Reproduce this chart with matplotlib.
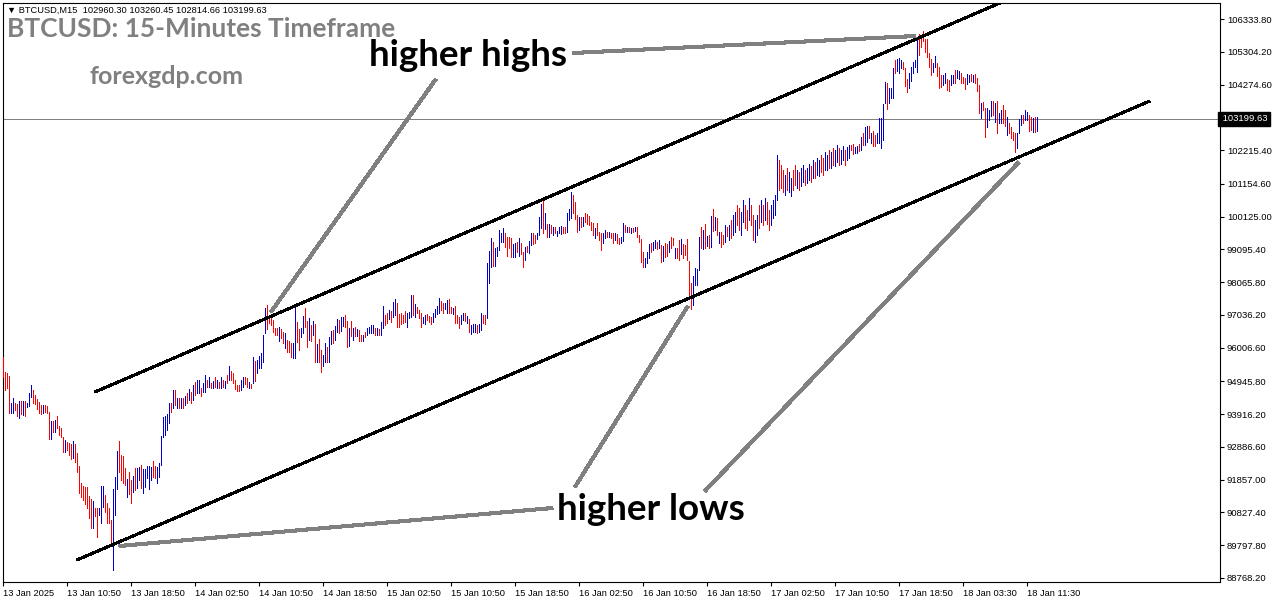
import matplotlib
matplotlib.use("Agg")
import matplotlib.pyplot as plt
import matplotlib.transforms as mtransforms
import numpy as np

# ---- BTCUSD M15 bars: high / low per bar, and direction (1 = up bar, 0 = down bar)
highs = [
    95703, 95232, 95200, 95115, 94276, 94415, 94276, 94236, 94330, 94330,
    94330, 94330, 94276, 94591, 94833, 94676, 94518, 94383, 94308, 94204,
    94204, 94195, 94173, 93994, 93701, 93701, 93733, 93859, 93544, 93491,
    93208, 93104, 93051, 93001, 92979, 93073, 92979, 92686, 92287, 91744,
    91668, 91637, 91637, 91354, 91241, 91198, 90958, 90977, 90958, 91659,
    91659, 91376, 91115, 90958, 90590, 91565, 91932, 92759, 93083, 92633,
    92602, 92215, 91869, 92108, 91847, 91982, 92215, 92215, 92265, 92319,
    92184, 92184, 92287, 92287, 92265, 92444, 92287, 92265, 92391, 93230,
    93818, 93859, 93921, 94276, 94276, 94676, 94676, 94415, 94415, 94415,
    94415, 94487, 94591, 94698, 94622, 94833, 94936, 94990, 94990, 94748,
    94886, 95147, 94990, 95075, 94905, 94969, 95075, 94990, 94936, 95075,
    94990, 94969, 95147, 95430, 95283, 95219, 94990, 94833, 94833, 94990,
    95075, 95075, 95043, 94936, 94864, 95722, 95597, 95618, 95744, 95829,
    96404, 97243, 97347, 97032, 96929, 96875, 96614, 96614, 96646, 96583,
    96508, 96457, 96247, 96226, 96162, 96143, 97293, 96822, 96583, 96614,
    97001, 97243, 96854, 96929, 96718, 96844, 96750, 96121, 96269, 95933,
    95775, 96143, 96036, 96351, 96540, 96561, 96687, 96897, 96875, 96960,
    96979, 97032, 96854, 96614, 96854, 96614, 96665, 96583, 96561, 96404,
    96404, 96508, 96633, 96665, 96718, 96718, 96633, 96614, 96583, 96822,
    97315, 97032, 97086, 97190, 97169, 97450, 97526, 97419, 97064, 97086,
    97032, 97169, 97086, 97136, 97661, 97661, 97378, 97293, 97190, 97086,
    96979, 97032, 97064, 97001, 96960, 97086, 97212, 97315, 97557, 97483,
    97400, 97419, 97504, 97526, 97274, 97243, 97315, 97032, 96979, 97032,
    97105, 97086, 97001, 96897, 96718, 96750, 96750, 96718, 96750, 97105,
    97032, 97032, 98676, 99054, 99443, 99336, 99128, 99179, 99703, 99619,
    99757, 99619, 99493, 99493, 99461, 99254, 99285, 99336, 99443, 99304,
    99022, 99179, 99201, 99368, 99619, 99600, 99546, 99619, 100121, 100520,
    100625, 100228, 99892, 99892, 99861, 99788, 99788, 99682, 99807, 99829,
    99807, 99788, 100228, 100354, 100907, 100803, 100593, 100175, 100121, 100103,
    100121, 100247, 100206, 100143, 99964, 99933, 99757, 99914, 99650, 99619,
    99600, 99703, 99650, 99650, 99619, 99600, 99619, 99578, 99443, 99474,
    99914, 99861, 99807, 99807, 99776, 99757, 99807, 99807, 99546, 99421,
    99022, 98833, 99003, 99254, 99285, 99317, 99389, 99317, 99389, 99232,
    99210, 99285, 99254, 99357, 99493, 99461, 99128, 99128, 99389, 99421,
    99254, 99232, 99421, 98729, 98029, 98267, 98500, 98478, 99493, 99807,
    99703, 99883, 99524, 99546, 100153, 100363, 100121, 100071, 99650, 99631,
    99546, 99861, 99807, 99861, 100018, 100175, 100269, 100489, 100395, 100269,
    100646, 100489, 100332, 100709, 100489, 100175, 100018, 100175, 100489, 100646,
    100489, 100709, 100583, 100332, 100489, 100646, 100803, 102060, 101903, 101746,
    101589, 101431, 101651, 101526, 101337, 101589, 101746, 101589, 101526, 101651,
    101746, 101589, 101651, 101777, 101714, 101903, 101840, 101966, 101903, 102060,
    101966, 102154, 102060, 102217, 102154, 102280, 102217, 102374, 102280, 102217,
    102343, 102217, 102311, 102374, 102374, 102406, 102321, 102343, 102406, 102635,
    102742, 102950, 102972, 102972, 102742, 102825, 102689, 102742, 103214, 103214,
    103663, 104364, 104332, 104156, 104156, 104785, 105045, 105068, 105099, 105045,
    104992, 104785, 104439, 104646, 104816, 104992, 105045, 105727, 105863, 105831,
    105967, 105696, 105696, 105275, 105068, 104942, 105171, 104961, 104835, 104574,
    104574, 104646, 104439, 104417, 104574, 104574, 104731, 104731, 104710, 104628,
    104502, 104470, 104606, 104574, 104606, 104574, 104606, 104470, 104260, 103704,
    103735, 103528, 103528, 103474, 103757, 103767, 103704, 103767, 103390, 103474,
    103631, 103474, 103264, 103056, 102950, 102792, 102761, 102742, 103182, 103317,
    103317, 103474, 103421, 103317, 103264, 103232, 103245, 103260.45,
]
lows = [
    95075, 94676, 94729, 93962, 93962, 93962, 94047, 93859, 93805, 93921,
    93890, 93859, 94151, 94173, 94465, 94276, 94226, 94069, 93962, 93921,
    93962, 93994, 93943, 93136, 93126, 93365, 93365, 93472, 93261, 93189,
    92737, 92737, 92790, 92633, 92507, 92529, 92423, 92108, 91448, 91323,
    91219, 91093, 90958, 90644, 90330, 90330, 90716, 90066, 90748, 90487,
    91008, 90851, 90487, 90506, 89836, 89019, 90748, 91565, 92108, 91847,
    91744, 91690, 91323, 91398, 91115, 91480, 91533, 91587, 91847, 91587,
    91448, 91637, 91901, 91555, 91847, 91932, 91901, 91763, 91951, 92319,
    93208, 93261, 93419, 93648, 93994, 94101, 94204, 94101, 94101, 94101,
    94101, 94204, 94258, 94361, 94258, 94361, 94518, 94572, 94572, 94487,
    94622, 94622, 94779, 94779, 94729, 94729, 94779, 94748, 94729, 94748,
    94779, 94729, 94886, 94990, 94990, 94886, 94698, 94644, 94644, 94676,
    94779, 94864, 94779, 94729, 94729, 94886, 94969, 95200, 95358, 95376,
    95565, 96476, 96583, 96772, 96718, 96508, 96404, 96404, 96226, 96300,
    96143, 95986, 95879, 95879, 95722, 95672, 95672, 96193, 95933, 96351,
    96476, 96665, 96036, 96247, 96226, 96404, 95565, 95565, 95565, 95251,
    95430, 95565, 95565, 95565, 96121, 96162, 96247, 96508, 96457, 96540,
    96687, 96665, 96017, 96058, 96373, 96247, 96373, 96373, 96226, 96226,
    96226, 96332, 96404, 96457, 96476, 96476, 96404, 96404, 96404, 96404,
    96614, 96718, 96772, 96897, 96822, 96979, 97032, 96665, 96665, 96750,
    96772, 96822, 96665, 96929, 96979, 97032, 96979, 97086, 96929, 96665,
    96772, 96750, 96875, 96822, 96750, 96822, 96979, 97064, 97086, 97190,
    97086, 97212, 97086, 97105, 97105, 97064, 96790, 96790, 96614, 96750,
    96875, 96854, 96772, 96508, 96435, 96508, 96508, 96476, 96508, 96561,
    96772, 96750, 96929, 98047, 98550, 98572, 98572, 98886, 99075, 99336,
    99336, 99179, 98886, 99128, 98846, 98846, 98846, 99022, 98886, 98949,
    98531, 98761, 99022, 98990, 99232, 99263, 99285, 99411, 99546, 99757,
    99600, 99725, 99474, 99474, 99619, 99546, 99600, 99515, 99600, 99578,
    99600, 99619, 99650, 100018, 100071, 100228, 100040, 99650, 99703, 99807,
    99829, 99964, 99892, 99861, 99703, 99546, 99443, 99546, 99389, 99075,
    99304, 99443, 99474, 99493, 99443, 99285, 99389, 99304, 99263, 99304,
    99368, 99650, 99650, 99631, 99600, 99650, 99682, 99493, 99317, 98688,
    98550, 98550, 98657, 98833, 99022, 99075, 99128, 99106, 99128, 98688,
    98729, 98864, 98896, 99022, 99147, 99232, 98833, 98814, 98761, 98940,
    98833, 98918, 98761, 97557, 97221, 97347, 97975, 97975, 98446, 99128,
    99106, 99128, 99210, 99147, 99179, 99672, 99703, 99546, 99285, 99179,
    99254, 99317, 99524, 99389, 99452, 99546, 99640, 99861, 99703, 99546,
    99955, 99766, 99703, 100018, 99861, 99389, 99326, 99546, 99766, 99955,
    99861, 100018, 99892, 99703, 99861, 100080, 100175, 100646, 100960, 101023,
    100897, 100803, 100960, 100897, 100772, 100960, 101118, 101023, 100960, 101086,
    101212, 101118, 101180, 101275, 101212, 101337, 101337, 101431, 101400, 101526,
    101431, 101589, 101589, 101651, 101651, 101746, 101714, 101840, 101746, 101777,
    101903, 101746, 101903, 101966, 102217, 102092, 102114, 102133, 102196, 102217,
    102374, 102374, 102478, 102585, 102428, 102343, 102343, 102447, 102428, 102271,
    102532, 103685, 103496, 103685, 103842, 103842, 104628, 104710, 104628, 104785,
    104753, 104229, 104049, 104156, 104396, 104628, 104835, 104678, 105203, 105463,
    105653, 105306, 105149, 104835, 104574, 104678, 104835, 104543, 104156, 104188,
    104260, 104313, 104103, 104081, 104260, 104332, 104313, 104470, 104439, 104332,
    104313, 104125, 104291, 104364, 104396, 104364, 104313, 104081, 103390, 103214,
    103474, 102635, 102950, 103160, 103286, 103317, 103107, 102761, 103075, 103056,
    103075, 102972, 102689, 102742, 102585, 102532, 102164, 102271, 102742, 103003,
    103056, 103160, 103160, 102825, 102846, 102792, 102792, 102814.66,
]
bar_up = (
    "0000110010" "1011100000" "1000101000" "0100010000" "0000010011"
    "1000011100" "0010010110" "1111100111" "1111010101" "0101010110"
    "1101010101" "0101000001" "1001010111" "1100000010" "0100011001"
    "1001010100" "1101101101" "1001010100" "1011110101" "1001011000"
    "0011101000" "1100011110" "0110010001" "1010111011" "0011101111"
    "1000011010" "0101100111" "0101010111" "0011100010" "1000001000"
    "1101001001" "1010101000" "0111011010" "1001001001" "0000011110"
    "1010101010" "0101011001" "1001001101" "0100111100" "0101100101"
    "1011010110" "0110101101" "1011001101" "0110100111" "1101110111"
    "0001111100" "0000011000" "1100110110" "0011010001" "0011101011"
    "0010000111" "01100101"
)
last_open, last_high, last_low, last_close = 102960.30, 103260.45, 102814.66, 103199.63

price_ticks = [106333.80, 105304.20, 104274.60, 102215.40, 101154.60, 100125.00,
               99095.40, 98065.80, 97036.20, 96006.60, 94945.80, 93916.20,
               92886.60, 91857.00, 90827.40, 89797.80, 88768.20]
time_labels = ["13 Jan 2025", "13 Jan 10:50", "13 Jan 18:50", "14 Jan 02:50",
               "14 Jan 10:50", "14 Jan 18:50", "15 Jan 02:50", "15 Jan 10:50",
               "15 Jan 18:50", "16 Jan 02:50", "16 Jan 10:50", "16 Jan 18:50",
               "17 Jan 02:50", "17 Jan 10:50", "17 Jan 18:50", "18 Jan 03:30",
               "18 Jan 11:30"]
bars_per_label = 32

# trend channel (bar index, price) and pointer lines for the annotations
upper_channel = ([45.8, 498.3], [94613, 106837])
lower_channel = ([36.8, 573.3], [89334, 103757])
highs_pointers = [([284.8, 456.3], [105265, 105800]),
                  ([216.3, 133.8], [104448, 97127])]
lows_pointers = [([274.8, 57.8], [90968, 89773]),
                 ([285.8, 342.3], [91627, 97315]),
                 ([350.8, 507.8], [91502, 101840])]

# ---- figure
W, H = 1276, 604
fig = plt.figure(figsize=(W / 100, H / 100), dpi=100)
fig.patch.set_facecolor("white")
ax_l, ax_r, ax_t, ax_b = 3, 1220, 3, 582
ax = fig.add_axes([ax_l / W, (H - ax_b) / H, (ax_r - ax_l) / W, (ax_b - ax_t) / H])
ax.set_facecolor("white")
ax.set_xlim(-0.165, 608.335)
ax.set_ylim(88642.1, 106836.6)

x = np.arange(len(highs))
colors = ["#0000cd" if c == "1" else "#ff0000" for c in bar_up]
ax.vlines(x, lows, highs, colors=colors, linewidth=0.6, antialiased=False, zorder=3)

# last price line
ax.axhline(last_close, color="#808080", linewidth=0.6, antialiased=False, zorder=1)

# channel
for xs, ys in (upper_channel, lower_channel):
    ax.plot(xs, ys, color="black", linewidth=1.5, antialiased=False, zorder=4,
            solid_capstyle="butt")
for xs, ys in highs_pointers + lows_pointers:
    ax.plot(xs, ys, color="#808080", linewidth=2.2, antialiased=False, zorder=5,
            solid_capstyle="butt")

# axes styling
for s in ax.spines.values():
    s.set_color("black")
    s.set_linewidth(0.8)
tick_font = ["Liberation Sans", "DejaVu Sans"]
ax.yaxis.tick_right()
ax.set_yticks(price_ticks)
ax.set_yticklabels([f"{v:.2f}" for v in price_ticks], fontsize=6.8, family=tick_font)
ax.tick_params(axis="y", direction="out", length=3, width=0.8, pad=2, colors="black")
xt = [i * bars_per_label for i in range(len(time_labels))]
ax.set_xticks(xt)
ax.set_xticklabels(time_labels, fontsize=6.7, family=tick_font)
ax.tick_params(axis="x", direction="out", length=3, width=0.8, pad=2, colors="black")
for lbl in ax.get_xticklabels():
    lbl.set_horizontalalignment("left")
    lbl.set_transform(lbl.get_transform() + mtransforms.ScaledTranslation(-0.5 / 100, 0, fig.dpi_scale_trans))

# last price box
bt = mtransforms.blended_transform_factory(ax.transAxes, ax.transData)
ax.text(1.0, last_close, " 103199.63", transform=bt, ha="left", va="center",
        fontsize=6.8, family=tick_font, color="white", clip_on=False,
        bbox=dict(boxstyle="square,pad=0.25", fc="black", ec="black"))

# header / titles / annotation labels
def px(xp, yp):
    return xp / W, 1 - yp / H

fig.text(*px(7, 10), "\u25bc BTCUSD,M15  102960.30 103260.45 102814.66 103199.63",
         fontsize=6.7, family=tick_font, color="black", va="center", ha="left")
fig.text(*px(7, 29), "BTCUSD: 15-Minutes Timeframe", fontsize=19, family="Lato",
         fontweight="bold", color="#808080", va="center", ha="left")
fig.text(*px(90, 76), "forexgdp.com", fontsize=18, family="Lato",
         fontweight="bold", color="#808080", va="center", ha="left")
fig.text(*px(369, 56), "higher highs", fontsize=26.5, family="Lato",
         fontweight="bold", color="black", va="center", ha="left")
fig.text(*px(557, 510), "higher lows", fontsize=26.5, family="Lato",
         fontweight="bold", color="black", va="center", ha="left")

fig.savefig("out.png", dpi=100, facecolor="white")
